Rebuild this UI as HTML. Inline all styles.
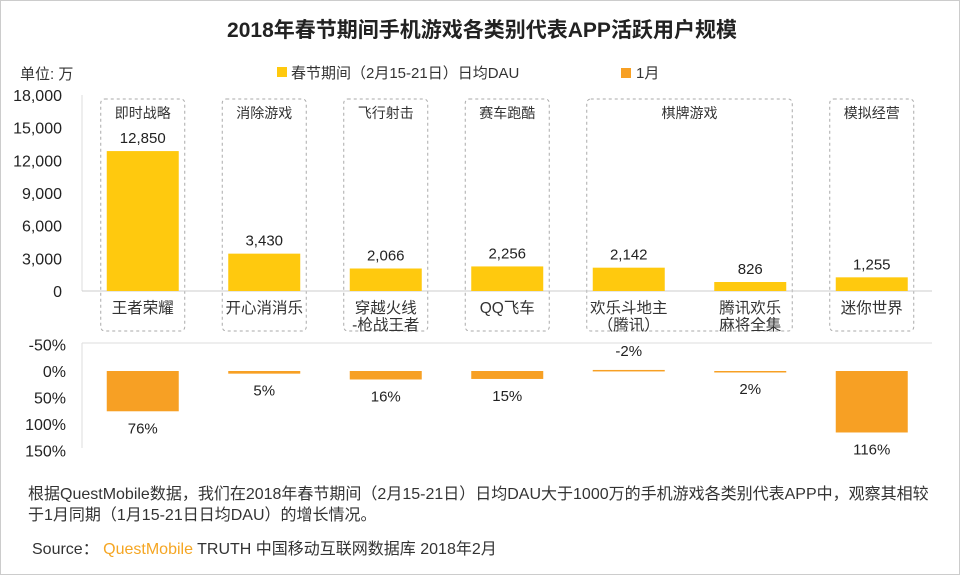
<!DOCTYPE html>
<html><head><meta charset="utf-8"><style>
body{margin:0;background:#fff;}
svg{display:block;font-family:"Liberation Sans","Noto Sans CJK SC",sans-serif;}
</style></head><body>
<svg id="c" width="960" height="575" viewBox="0 0 960 575">
<rect x="0.5" y="0.5" width="959" height="574" fill="#fff" stroke="#ccc"/>
<text x="482" y="37" text-anchor="middle" font-size="21" font-weight="bold" fill="#222">2018年春节期间手机游戏各类别代表APP活跃用户规模</text>
<text x="20" y="79" font-size="15" fill="#333">单位: 万</text>
<rect x="277" y="67" width="10" height="10" fill="#FFC90E"/>
<text x="291" y="78" font-size="15" fill="#333">春节期间（2月15-21日）日均DAU</text>
<rect x="621" y="68" width="10" height="10" fill="#F7A024"/>
<text x="636" y="78" font-size="15" fill="#333">1月</text>
<g id="g"></g>
<text x="28" y="499" font-size="16" fill="#333">根据QuestMobile数据，我们在2018年春节期间（2月15-21日）日均DAU大于1000万的手机游戏各类别代表APP中，观察其相较</text>
<text x="28" y="520" font-size="16" fill="#333">于1月同期（1月15-21日日均DAU）的增长情况。</text>
<text x="32" y="554" font-size="16" fill="#333">Source： <tspan fill="#F5A623">QuestMobile</tspan> TRUTH 中国移动互联网数据库 2018年2月</text>
</svg>
<script>
const apps=["王者荣耀","开心消消乐","穿越火线|-枪战王者","QQ飞车","欢乐斗地主|（腾讯）","腾讯欢乐|麻将全集","迷你世界"];
const dau=[12850,3430,2066,2256,2142,826,1255];
const growth=[76,5,16,15,-2,2,116];
const dauTicks=[0,3000,6000,9000,12000,15000,18000];
const growthTicks=[-50,0,50,100,150];
const groups=[["即时战略",0,0],["消除游戏",1,1],["飞行射击",2,2],["赛车跑酷",3,3],["棋牌游戏",4,5],["模拟经营",6,6]];
const NS="http://www.w3.org/2000/svg",g=document.getElementById('g');
function el(t,a,txt){const e=document.createElementNS(NS,t);for(const k in a)e.setAttribute(k,a[k]);if(txt!=null)e.textContent=txt;g.appendChild(e);return e;}
const x0=82,slot=121.5,bw=72;
const cx=i=>x0+slot*(i+0.5);
const yT=v=>291-v/18000*196;
const yB=v=>371+v*0.53;
groups.forEach(gr=>{const l=cx(gr[1])-42,r=cx(gr[2])+42;
const b=el('rect',{x:l,y:99,width:r-l,height:232,rx:4,fill:'none',stroke:'#aaa','stroke-dasharray':'3,3'});


const t=el('text',{x:(l+r)/2,y:118,'text-anchor':'middle','font-size':14,fill:'#333'},gr[0]);

});
const a1=el('line',{x1:x0,y1:95,x2:x0,y2:291,stroke:'#ddd'});


const a2=el('line',{x1:x0,y1:291,x2:932,y2:291,stroke:'#ccc'});


dauTicks.forEach(v=>{const t=el('text',{x:62,y:yT(v)+6,'text-anchor':'end','font-size':16,fill:'#222'},v.toLocaleString('en-US'));

});
const a3=el('line',{x1:x0,y1:343,x2:x0,y2:448,stroke:'#ddd'});


const a4=el('line',{x1:x0,y1:343,x2:932,y2:343,stroke:'#ddd'});


growthTicks.forEach(v=>{const t=el('text',{x:66,y:yB(v)+6,'text-anchor':'end','font-size':16,fill:'#222'},v+'%');

});
apps.forEach((n,i)=>{const c=cx(i);
const b=el('rect',{x:c-bw/2,y:yT(dau[i]),width:bw,height:291-yT(dau[i]),fill:'#FFC90E'});


const v=el('text',{x:c,y:yT(dau[i])-8,'text-anchor':'middle','font-size':15,fill:'#222'},dau[i].toLocaleString('en-US'));


n.split('|').forEach((s,k)=>{const t=el('text',{x:c,y:313+k*17,'text-anchor':'middle','font-size':15.5,fill:'#333'},s);

});
const gv=growth[i],y1=Math.min(yB(0),yB(gv)),h=Math.max(Math.abs(yB(gv)-yB(0)),1.5);
const gb=el('rect',{x:c-bw/2,y:y1,width:bw,height:h,fill:'#F7A024'});


const ly=gv>=0?yB(gv)+22:yB(gv)-14;
const gt=el('text',{x:c,y:ly,'text-anchor':'middle','font-size':15,fill:'#222'},gv+'%');

});
</script>
</body></html>
